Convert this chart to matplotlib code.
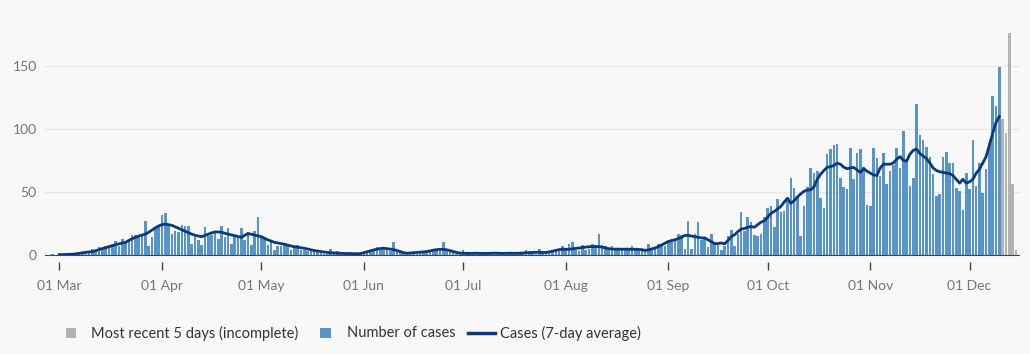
import numpy as np
import pandas as pd
import matplotlib.pyplot as plt
import matplotlib.dates as mdates
from matplotlib.patches import Rectangle
from matplotlib.lines import Line2D

# daily cases, 28 Feb 2020 onwards (complete days)
cases = [1, 0, 1, 0, 1, 0, 1, 1,
         2, 2, 3, 3, 5, 4, 6,
         6, 7, 8, 9, 11, 7, 13,
         10, 11, 16, 16, 15, 17, 27,
         7, 14, 22, 23, 32, 33, 24,
         17, 19, 18, 24, 23, 23, 9,
         14, 12, 8, 22, 15, 16, 18,
         13, 23, 14, 21, 9, 15, 14,
         21, 12, 18, 8, 19, 30, 14,
         13, 8, 12, 4, 7, 7, 8,
         7, 4, 6, 8, 4, 4, 3,
         3, 3, 2, 2, 1, 1, 5,
         2, 3, 1, 1, 1, 2, 1,
         1, 1, 1, 2, 3, 4, 6,
         4, 5, 4, 3, 10, 3, 2,
         1, 1, 2, 2, 1, 2, 2,
         3, 3, 4, 4, 3, 10, 4,
         3, 2, 1, 1, 4, 1, 1,
         1, 2, 1, 1, 2, 1, 1,
         2, 1, 1, 2, 1, 1, 2,
         1, 2, 4, 1, 2, 1, 5,
         2, 2, 2, 2, 4, 3, 7,
         4, 9, 10, 4, 3, 8, 4,
         5, 9, 8, 17, 8, 7, 4,
         7, 4, 5, 5, 5, 4, 7,
         4, 5, 4, 3, 9, 4, 5,
         9, 9, 7, 12, 11, 13, 17,
         16, 5, 27, 5, 17, 26, 12,
         14, 6, 17, 9, 8, 4, 7,
         15, 20, 7, 17, 34, 19, 30,
         26, 16, 15, 17, 30, 37, 39,
         22, 44, 34, 35, 44, 61, 53,
         45, 15, 39, 54, 69, 65, 67,
         45, 37, 80, 84, 87, 88, 61,
         54, 52, 85, 60, 81, 84, 70,
         40, 39, 85, 77, 63, 81, 56,
         67, 71, 85, 69, 98, 75, 55,
         61, 120, 95, 91, 86, 78, 64,
         47, 48, 78, 82, 73, 73, 53,
         51, 36, 65, 52, 91, 55, 73,
         49, 68, 89, 126, 118, 149]

# most recent 5 days (incomplete)
recent = [108, 97, 176, 56, 4]

# 7-day average, 01 Mar 2020 onwards
avg = [0.3, 0.3, 0.4, 0.5, 0.6, 0.9, 1.3, 1.7, 2.1, 2.4,
       2.6, 3.4, 4.2, 5.0, 5.8, 6.5, 7.3, 8.1, 8.8, 9.4,
       10, 11.5, 12.8, 14, 15, 15.8, 16.5, 18, 19.8, 21.5,
       23, 24, 24.5, 24, 23.5, 22.3, 21.2, 20, 18.8, 17.6,
       16.5, 15.6, 15, 14.5, 15.5, 16.5, 17.5, 18.3, 18.2, 18,
       17.2, 16.5, 15.9, 15.3, 14.6, 14, 15.5, 17, 16.4, 15.8,
       15.1, 14.5, 13.2, 12, 11, 10, 9.5, 9, 8.5, 7.8,
       7.1, 6.5, 6.1, 5.7, 5.3, 4.7, 4.1, 3.5, 3.1, 2.7,
       2.3, 2, 1.8, 1.6, 1.4, 1.3, 1.2, 1.1, 1, 1,
       1, 1.1, 1.8, 2.5, 3.3, 4, 4.6, 5.1, 5.3, 5,
       4.6, 4.2, 3.5, 2.7, 1.8, 1.4, 1.5, 1.8, 2, 2.2,
       2.4, 2.7, 3.2, 3.8, 4.2, 4.4, 4.4, 4.1, 3.5, 2.7,
       2, 1.5, 1.3, 1.3, 1.2, 1.3, 1.4, 1.3, 1.2, 1.2,
       1.3, 1.4, 1.4, 1.3, 1.2, 1.3, 1.4, 1.3, 1.3, 1.4,
       1.5, 1.7, 1.9, 2, 2.1, 2.1, 2, 2, 2.4, 3,
       3.6, 4.2, 4.5, 4.5, 4.5, 4.8, 5.2, 5.5, 5.8, 6.2,
       6.5, 6.6, 6.6, 6.6, 6.2, 5.5, 5, 4.7, 4.6, 4.6,
       4.5, 4.6, 4.6, 4.5, 4.5, 4.4, 4.2, 3.6, 4, 4.8,
       5.5, 6.6, 8, 9.3, 10.6, 11.5, 12, 13, 14, 15.5,
       15.5, 15, 14.5, 14, 13.5, 13.5, 12, 10.5, 9, 9,
       9.5, 8.8, 11.5, 14.5, 16, 18.5, 20.5, 21, 22, 22.5,
       22, 24, 26, 27, 30, 33, 34.5, 36.5, 38.5, 42,
       45, 41, 43, 46, 48.5, 50.5, 51.6, 51.6, 54, 60,
       64, 67, 69.6, 70, 71, 72.8, 72, 69.6, 68.5, 69,
       69.5, 67.5, 65.5, 68.5, 66.5, 65, 63.5, 63, 69, 72,
       72, 72, 73, 76, 78, 75, 74.5, 80, 83, 84,
       80.5, 78.5, 76.5, 73, 69, 67, 66, 65.5, 65, 64.5,
       63, 60, 57, 60, 57, 58, 60, 64.8, 68, 73,
       78, 87, 96.6, 105, 110]

tick_labels = ['01 Mar', '01 Apr', '01 May', '01 Jun', '01 Jul', '01 Aug',
               '01 Sep', '01 Oct', '01 Nov', '01 Dec']
y_ticks = [0, 50, 100, 150]

case_dates = pd.date_range('2020-02-28', periods=len(cases))
recent_dates = pd.date_range(case_dates[-1] + pd.Timedelta(days=1), periods=len(recent))
avg_dates = pd.date_range('2020-03-01', periods=len(avg))
tick_dates = pd.to_datetime([t + ' 2020' for t in tick_labels], format='%d %b %Y')

BG = '#f8f8f8'
BLUE = '#5694ca'
GREY = '#b1b4b6'
NAVY = '#0b3a7a'
TXT = '#6f777b'

plt.rcParams['font.family'] = ['Lato', 'DejaVu Sans']

fig = plt.figure(figsize=(10.30, 3.54), dpi=100, facecolor=BG)
W, H = 1030, 354
ax = fig.add_axes([45 / W, 1 - 262 / H, 975 / W, 232 / H], facecolor=BG)

ax.bar(case_dates, cases, width=0.78, color=BLUE, zorder=2)
ax.bar(recent_dates, recent, width=0.78, color=GREY, zorder=2)
ax.plot(avg_dates, avg, color=NAVY, lw=2.0, zorder=3, solid_joinstyle='round')

ax.set_xlim(pd.Timestamp('2020-02-25 16:00'), pd.Timestamp('2020-12-16 06:00'))
ax.set_ylim(-5.6, 178.5)

for v in y_ticks[1:]:
    ax.axhline(v, color='#e6e6e6', lw=0.8, zorder=1)
ax.axhline(0, color='#444444', lw=0.8, zorder=4)

ax.set_yticks(y_ticks)
ax.set_yticklabels([str(v) for v in y_ticks])
ax.set_xticks(tick_dates)
ax.set_xticklabels(tick_labels)
ax.tick_params(axis='y', length=0, pad=6, labelsize=10, labelcolor=TXT)
ax.tick_params(axis='x', length=6, width=1, color='#444444', pad=7,
               labelsize=10, labelcolor=TXT)
for s in ax.spines.values():
    s.set_visible(False)

# legend
ly = 1 - 333 / H
fig.add_artist(Rectangle((66 / W, 1 - 338 / H), 10 / W, 10 / H, transform=fig.transFigure,
                         facecolor=GREY, edgecolor='none'))
fig.text(91 / W, ly, 'Most recent 5 days (incomplete)', va='center', fontsize=10.5, color='#333333')
fig.add_artist(Rectangle((320 / W, 1 - 338 / H), 11 / W, 10 / H, transform=fig.transFigure,
                         facecolor=BLUE, edgecolor='none'))
fig.text(347 / W, ly, 'Number of cases', va='center', fontsize=10.5, color='#333333')
fig.add_artist(Line2D([468 / W, 495 / W], [ly, ly], transform=fig.transFigure,
                      color=NAVY, lw=2.5))
fig.text(500 / W, ly, 'Cases (7-day average)', va='center', fontsize=10.5, color='#333333')

fig.savefig('out.png', dpi=100, facecolor=BG)
